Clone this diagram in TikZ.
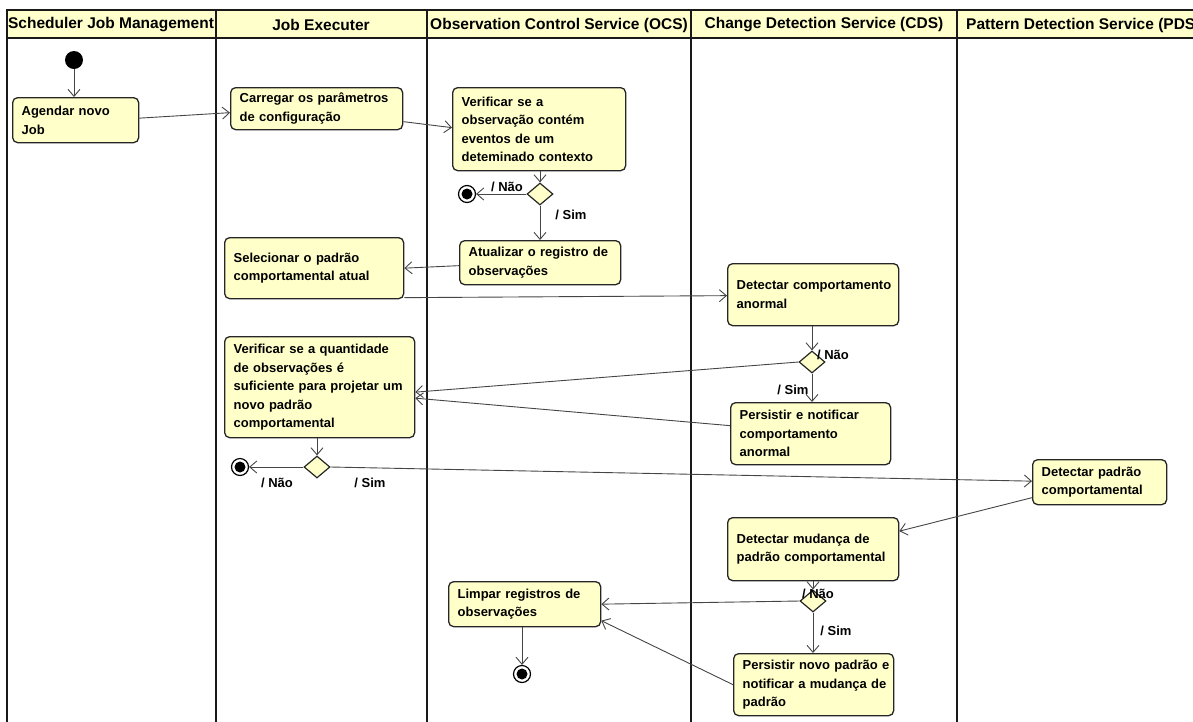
\documentclass[tikz,border=0pt]{standalone}
\usepackage{fontspec}
\setmainfont{Liberation Sans}
\usetikzlibrary{arrows.meta,shapes.geometric}
\definecolor{boxfill}{HTML}{FFFFCA}
\definecolor{hdrfill}{HTML}{FFFFCC}
\definecolor{edgecol}{HTML}{454545}
\newcommand{\oneline}[1]{\mbox{#1}}
\begin{document}
\begin{tikzpicture}[x=1pt,y=-1pt,
  act/.style={draw=black!85, line width=1.3pt, fill=boxfill, rounded corners=5pt,
    font=\fontsize{13}{18.5}\selectfont\bfseries, align=left, anchor=north west,
    inner xsep=9pt, inner ysep=2pt},
  dec/.style={diamond, draw=black!85, line width=1.2pt, fill=boxfill, minimum width=26pt, minimum height=22pt, inner sep=0pt},
  startnode/.style={circle, fill=black, minimum size=18pt, inner sep=0pt},
  endnode/.style={circle, draw=black, line width=1.2pt, fill=white, minimum size=17pt, inner sep=0pt,
    path picture={\fill[black] (path picture bounding box.center) circle (5.5pt);}},
  flow/.style={draw=edgecol, line width=0.9pt, -{Straight Barb[length=7pt,width=12pt]}},
  lbl/.style={font=\fontsize{13}{15}\selectfont\bfseries, inner sep=0pt},
  hdr/.style={font=\fontsize{15.5}{17}\selectfont\bfseries, inner sep=0pt},
  lane/.style={draw=black!90, line width=1.8pt}
]
\useasboundingbox (0,0) rectangle (1193,721);
% swimlanes
\fill[hdrfill] (7,10) rectangle (1194,38);
\draw[lane] (1194,10) -- (7,10) -- (7,722);
\draw[lane] (7,38) -- (1194,38);
\draw[lane] (216,10) -- (216,722);
\draw[lane] (427,10) -- (427,722);
\draw[lane] (691,10) -- (691,722);
\draw[lane] (957,10) -- (957,722);
\node[hdr] (h1) at (111,25) {Scheduler Job Management};
\node[hdr] (h2) at (321,25) {Job Executer};
\node[hdr] (h3) at (559,25) {Observation Control Service (OCS)};
\node[hdr] (h4) at (824,25) {Change Detection Service (CDS)};
\node[hdr, anchor=west] (h5) at (966,25) {Pattern Detection Service (PDS)};

% nodes
\node[startnode] (start) at (74,60) {};
\node[act, minimum width=126pt, minimum height=45pt, text width=108pt] (agendar) at (12,97) {Agendar novo\\Job};
\node[act, minimum width=172pt, minimum height=42pt, text width=154pt] (carregar) at (230,87) {\oneline{Carregar os parâmetros}\\\oneline{de configuração}};
\node[act, minimum width=173pt, minimum height=83pt, text width=155pt] (verifobs) at (452,87) {Verificar se a\\\oneline{observação contém}\\eventos de um\\\oneline{deteminado contexto}};
\node[dec] (d1) at (540,194) {};
\node[endnode] (end1) at (467,194) {};
\node[act, minimum width=161pt, minimum height=44pt, text width=143pt] (atualizar) at (459,240) {\oneline{Atualizar o registro de}\\observações};
\node[act, minimum width=179pt, minimum height=61pt, text width=161pt] (selecionar) at (224,237) {\oneline{Selecionar o padrão}\\\oneline{comportamental atual}};
\node[act, minimum width=171pt, minimum height=62pt, text width=153pt] (detcomp) at (727,263) {\oneline{Detectar comportamento}\\anormal};
\node[dec] (d2) at (812,362) {};
\node[act, minimum width=160pt, minimum height=62pt, text width=142pt] (perscomp) at (730,402) {\oneline{Persistir e notificar}\\comportamento\\anormal};
\node[act, minimum width=190pt, minimum height=101pt, text width=172pt] (verifquant) at (224,336) {\oneline{Verificar se a quantidade}\\\oneline{de observações é}\\\oneline{suficiente para projetar um}\\novo padrão\\comportamental};
\node[dec] (d3) at (317,467) {};
\node[endnode] (end2) at (240,467) {};
\node[act, minimum width=134pt, minimum height=45pt, text width=116pt] (detpadrao) at (1032,459) {\oneline{Detectar padrão}\\comportamental};
\node[act, minimum width=171pt, minimum height=63pt, text width=153pt] (detmud) at (727,517) {\oneline{Detectar mudança de}\\\oneline{padrão comportamental}};
\node[dec] (d4) at (813,601) {};
\node[act, minimum width=152pt, minimum height=45pt, text width=134pt] (limpar) at (448,581) {\oneline{Limpar registros de}\\observações};
\node[endnode] (end3) at (522,674) {};
\node[act, minimum width=160pt, minimum height=62pt, text width=142pt] (persnovo) at (733,653) {\oneline{Persistir novo padrão e}\\\oneline{notificar a mudança de}\\padrão};

% labels
\node[lbl] (l1) at (507,187) {/ Não};
\node[lbl] (l2) at (571,215) {/ Sim};
\node[lbl] (l3) at (833,355) {/ Não};
\node[lbl] (l4) at (793,390) {/ Sim};
\node[lbl] (l5) at (277,483) {/ Não};
\node[lbl] (l6) at (370,483) {/ Sim};
\node[lbl] (l7) at (818,594) {/ Não};
\node[lbl] (l8) at (836,631) {/ Sim};

% edges
\draw[flow] (start) -- (agendar.north -| start);
\draw[flow] ([yshift=2pt]agendar.east) -- ([yshift=-4pt]carregar.west);
\draw[flow] ([yshift=-13pt]carregar.east) -- ([yshift=1.5pt]verifobs.west);
\draw[flow] (d1 |- verifobs.south) -- (d1.north);
\draw[flow] (d1.west) -- (end1);
\draw[flow] (d1.south) -- (d1 |- atualizar.north);
\draw[flow] ([yshift=-3pt]atualizar.west) -- (selecionar.east);
\draw[flow] ([yshift=-29.5pt]selecionar.east) -- ([yshift=-1pt]detcomp.west);
\draw[flow] (d2 |- detcomp.south) -- (d2.north);
\draw[flow] (d2.west) -- ([yshift=-5pt]verifquant.east);
\draw[flow] (d2.south) -- (d2 |- perscomp.north);
\draw[flow] ([yshift=8pt]perscomp.west) -- ([yshift=-11pt]verifquant.east);
\draw[flow] (d3 |- verifquant.south) -- (d3.north);
\draw[flow] (d3.west) -- (end2);
\draw[flow] (d3.east) -- ([yshift=1pt]detpadrao.west);
\draw[flow] ([yshift=-15.5pt]detpadrao.west) -- ([yshift=18pt]detmud.east);
\draw[flow] (d4 |- detmud.south) -- (d4.north);
\draw[flow] (d4.west) -- (limpar.east);
\draw[flow] (d4.south) -- (d4 |- persnovo.north);
\draw[flow] (persnovo.west) -- ([yshift=-16.5pt]limpar.east);
\draw[flow] (end3 |- limpar.south) -- (end3.north);
\end{tikzpicture}
\end{document}
